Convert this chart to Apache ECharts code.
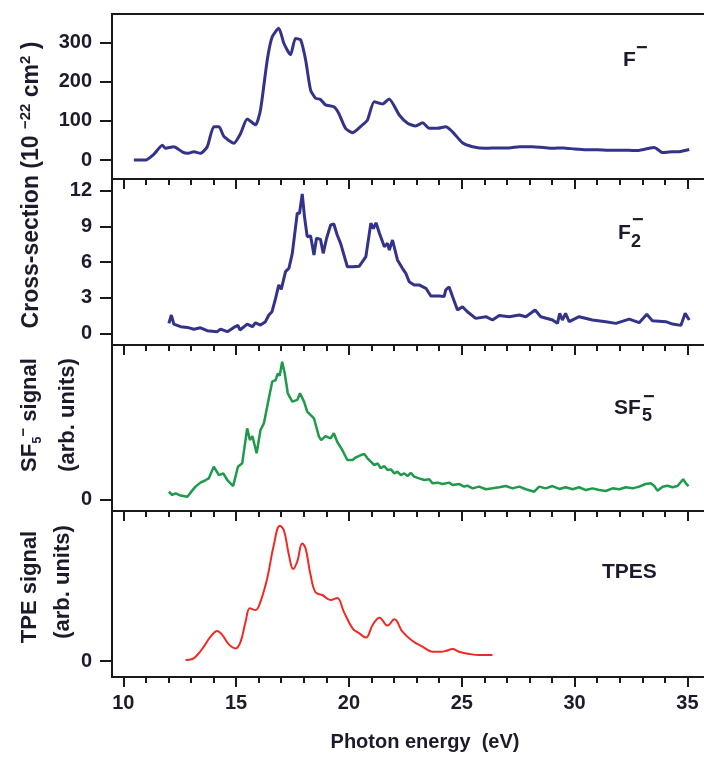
<!DOCTYPE html>
<html>
<head>
<meta charset="utf-8">
<script src="https://cdn.jsdelivr.net/npm/echarts@6/dist/echarts.min.js"></script>
<style>
  html, body { margin: 0; padding: 0; background: #ffffff; }
  #chart { width: 704px; height: 757px; }
</style>
</head>
<body>
<div id="chart"></div>
<script>
// Photon energy axis ticks (eV)
const majorTicks = [10, 15, 20, 25, 30, 35];
const minorTicks = [11, 12, 13, 14, 16, 17, 18, 19, 21, 22, 23, 24, 26, 27, 28, 29, 31, 32, 33, 34];

// Y tick labels of each panel
const fMinusTicks = [0, 100, 200, 300];
const f2MinusTicks = [0, 3, 6, 9, 12];
const sf5Ticks = [0];
const tpesTicks = [0];

// F- cross-section (10^-22 cm^2)
const fMinusE = [10.47, 10.99, 11.36, 11.73, 11.87, 12.24, 12.61, 12.84, 13.13, 13.42, 13.72, 14.01, 14.24, 14.46, 14.9, 15.2, 15.49, 15.86, 16.08, 16.38, 16.6, 16.89, 17.12, 17.41, 17.63, 17.86, 18.08, 18.3, 18.52, 18.74, 18.96, 19.33, 19.55, 19.85, 20.16, 20.6, 20.82, 21.12, 21.49, 21.78, 22.23, 22.6, 22.96, 23.26, 23.56, 23.92, 24.29, 24.59, 25.03, 25.48, 26.07, 26.6, 27.1, 27.55, 28.13, 28.6, 29.02, 29.5, 30.0, 30.5, 31.0, 31.5, 31.97, 32.4, 32.71, 33.15, 33.53, 33.9, 34.34, 34.7, 35.08];
const fMinusY = [0, 0, 15, 38, 30, 34, 21, 17, 21, 17, 34, 85, 85, 60, 43, 68, 105, 90, 128, 256, 315, 337, 298, 269, 311, 307, 256, 179, 158, 155, 141, 136, 119, 81, 70, 90, 102, 149, 143, 156, 115, 94, 87, 95, 81, 81, 85, 72, 44, 34, 30, 31, 31, 34, 34, 32, 30, 31, 28, 26, 26, 25, 25, 25, 24, 28, 32, 19, 21, 22, 27];

// F2- cross-section (10^-22 cm^2)
const f2MinusE = [12.02, 12.13, 12.24, 12.54, 12.84, 13.13, 13.42, 13.72, 14.16, 14.31, 14.61, 14.9, 15.08, 15.17, 15.49, 15.72, 15.86, 16.08, 16.3, 16.45, 16.59, 16.75, 16.89, 17.0, 17.19, 17.34, 17.49, 17.71, 17.81, 17.93, 18.03, 18.15, 18.3, 18.45, 18.56, 18.74, 18.86, 19.01, 19.19, 19.33, 19.48, 19.63, 19.93, 20.16, 20.46, 20.75, 20.97, 21.08, 21.2, 21.35, 21.57, 21.71, 21.79, 21.93, 22.15, 22.37, 22.52, 22.67, 22.89, 23.11, 23.41, 23.63, 24.0, 24.22, 24.29, 24.44, 24.59, 24.81, 25.03, 25.25, 25.62, 26.07, 26.36, 26.66, 27.1, 27.55, 27.84, 28.25, 28.5, 29.02, 29.24, 29.34, 29.46, 29.6, 29.76, 30.2, 30.79, 31.38, 31.83, 32.42, 32.86, 33.2, 33.45, 34.04, 34.34, 34.71, 34.9, 35.08];
const f2MinusY = [0.84, 1.54, 0.78, 0.56, 0.5, 0.34, 0.47, 0.22, 0.14, 0.36, 0.14, 0.5, 0.67, 0.28, 0.78, 0.56, 0.89, 0.7, 0.98, 1.54, 1.82, 2.94, 4.07, 3.7, 5.19, 5.47, 6.73, 10.1, 10.1, 11.73, 9.82, 8.13, 8.2, 6.59, 8.0, 7.9, 6.73, 8.0, 9.12, 9.2, 8.27, 7.57, 5.6, 5.6, 5.65, 6.45, 9.26, 8.8, 9.3, 8.42, 7.29, 7.57, 7.0, 7.85, 6.17, 5.47, 5.05, 4.34, 4.07, 4.07, 3.79, 3.14, 3.14, 3.1, 3.65, 3.9, 3.1, 1.96, 2.24, 1.82, 1.26, 1.4, 1.12, 1.5, 1.4, 1.54, 1.4, 1.96, 1.4, 1.12, 0.84, 1.68, 1.12, 1.68, 0.98, 1.4, 1.12, 0.98, 0.84, 1.2, 0.9, 1.6, 1.05, 0.98, 0.78, 0.67, 1.68, 1.12];

// SF5- signal (arb. units)
const sf5E = [12.02, 12.17, 12.32, 12.54, 12.84, 12.98, 13.2, 13.42, 13.65, 13.79, 14.01, 14.24, 14.43, 14.61, 14.87, 15.08, 15.27, 15.49, 15.61, 15.72, 15.91, 16.08, 16.23, 16.45, 16.6, 16.75, 16.85, 16.93, 17.04, 17.15, 17.29, 17.49, 17.71, 17.83, 18.01, 18.15, 18.45, 18.67, 18.77, 18.96, 19.19, 19.33, 19.48, 19.7, 19.93,
  20.16, 20.31, 20.53, 20.68, 20.82, 20.97, 21.12, 21.27, 21.41, 21.56, 21.71, 21.86, 22.01, 22.15, 22.3, 22.45, 22.6, 22.74, 22.89, 23.11, 23.34, 23.56, 23.7, 23.93, 24.15, 24.44, 24.59, 24.89, 25.11, 25.25, 25.48, 25.77, 26.07, 26.36, 26.66, 26.95, 27.25, 27.55, 27.84, 28.21, 28.43, 28.72, 29.02, 29.32, 29.61, 29.91, 30.2, 30.5, 30.79, 31.09, 31.38, 31.68, 31.98, 32.27, 32.57, 32.86, 33.15, 33.38, 33.53, 33.67, 33.9, 34.12, 34.34, 34.56, 34.81, 34.93, 35.05];
const sf5Y = [0.049, 0.028, 0.038, 0.024, 0.017, 0.043, 0.082, 0.108, 0.125, 0.136, 0.211, 0.157, 0.168, 0.125, 0.086, 0.211, 0.233, 0.46, 0.384, 0.41, 0.298, 0.449, 0.492, 0.655, 0.762, 0.773, 0.816, 0.8, 0.892, 0.82, 0.687, 0.633, 0.644, 0.687, 0.633, 0.568, 0.525, 0.406, 0.384, 0.41, 0.395, 0.428, 0.373, 0.32, 0.255,
  0.255, 0.272, 0.287, 0.294, 0.266, 0.244, 0.222, 0.233, 0.201, 0.216, 0.19, 0.194, 0.168, 0.179, 0.157, 0.168, 0.151, 0.172, 0.147, 0.136, 0.125, 0.13, 0.104, 0.108, 0.099, 0.108, 0.093, 0.099, 0.082, 0.088, 0.071, 0.082, 0.065, 0.071, 0.078, 0.086, 0.071, 0.082, 0.065, 0.049, 0.082, 0.071, 0.086, 0.067, 0.078, 0.065, 0.078, 0.06, 0.071, 0.06, 0.054, 0.071, 0.065, 0.078, 0.071, 0.082, 0.099, 0.104, 0.086, 0.056, 0.082, 0.088, 0.078, 0.086, 0.13, 0.104, 0.086];

// Threshold photoelectron spectrum (arb. units)
const tpesE = [12.76, 13.06, 13.28, 13.57, 13.87, 14.16, 14.39, 14.68, 14.98, 15.2, 15.42, 15.61, 15.86, 16.08, 16.38, 16.67, 16.94, 17.12, 17.34, 17.53, 17.71, 17.93, 18.08, 18.3, 18.52, 18.82, 19.19, 19.48, 19.77, 20.16, 20.46, 20.75, 21.05, 21.35, 21.71, 22.01, 22.37, 22.82, 23.26, 23.7, 24.07, 24.29, 24.59, 24.88, 25.33, 25.77, 26.36];
const tpesY = [0.007, 0.013, 0.04, 0.096, 0.162, 0.2, 0.173, 0.111, 0.084, 0.129, 0.262, 0.351, 0.34, 0.396, 0.551, 0.773, 0.902, 0.87, 0.707, 0.613, 0.664, 0.784, 0.75, 0.573, 0.458, 0.44, 0.407, 0.42, 0.329, 0.218, 0.184, 0.156, 0.24, 0.289, 0.236, 0.278, 0.196, 0.133, 0.096, 0.062, 0.062, 0.067, 0.08, 0.062, 0.047, 0.04, 0.04];

const zip = (xs, ys) => xs.map((x, i) => [x, ys[i]]);

const FONT = 'Liberation Sans, Arial, sans-serif';
const INK = '#1b1b2b';
const FRAME = '#1a1a1a';

// Panel layout: four stacked plots sharing the energy axis
const panels = [
  { top: 14,  height: 165, min: -48.6, max: 373.4, ticks: fMinusTicks },
  { top: 179, height: 166, min: -0.98, max: 12.98, ticks: f2MinusTicks },
  { top: 345, height: 166, min: -0.0758, max: 1, ticks: sf5Ticks },
  { top: 511, height: 166, min: -0.1067, max: 1, ticks: tpesTicks }
];

const grid = panels.map(p => ({
  left: 112, width: 598, top: p.top, height: p.height,
  outerBoundsMode: 'none', containLabel: false,
  show: true, borderColor: FRAME, borderWidth: 2, backgroundColor: 'transparent'
}));

const xAxis = [];
panels.forEach((p, i) => {
  xAxis.push({
    gridIndex: i, type: 'value', min: 9.5, max: 36, position: 'bottom',
    axisLine: { show: true, onZero: false, lineStyle: { color: FRAME, width: 2 } },
    axisTick: { show: true, inside: false, length: 10, customValues: majorTicks, lineStyle: { color: FRAME, width: 2 } },
    axisLabel: {
      show: i === 3, customValues: majorTicks, margin: 16,
      fontFamily: FONT, fontSize: 20, fontWeight: 'bold', color: INK
    },
    splitLine: { show: false }
  });
  xAxis.push({
    gridIndex: i, type: 'value', min: 9.5, max: 36, position: 'bottom',
    axisLine: { show: false, onZero: false },
    axisTick: { show: true, inside: false, length: 6, customValues: minorTicks, lineStyle: { color: FRAME, width: 2 } },
    axisLabel: { show: false },
    splitLine: { show: false }
  });
});

const yAxis = panels.map((p, i) => ({
  gridIndex: i, type: 'value', min: p.min, max: p.max,
  axisLine: { show: true, lineStyle: { color: FRAME, width: 2 } },
  axisTick: { show: true, length: 12, customValues: p.ticks, lineStyle: { color: FRAME, width: 2 } },
  axisLabel: {
    customValues: p.ticks, margin: 20,
    fontFamily: FONT, fontSize: 20, fontWeight: 'bold', color: INK
  },
  splitLine: { show: false }
}));

const lineSeries = (i, data, color, width, smooth) => ({
  type: 'line', xAxisIndex: 2 * i, yAxisIndex: i, data,
  showSymbol: false, smooth, lineStyle: { color, width }, silent: true
});

const series = [
  lineSeries(0, zip(fMinusE, fMinusY), '#33338a', 3, 0.2),
  lineSeries(1, zip(f2MinusE, f2MinusY), '#33338a', 3, false),
  lineSeries(2, zip(sf5E, sf5Y), '#1f9a4a', 2.5, false),
  lineSeries(3, zip(tpesE, tpesY), '#ee2a24', 2, 0.4)
];

const txt = (x, y, text, size, extra) => ({
  type: 'text', x, y,
  style: Object.assign({
    text, fontFamily: FONT, fontSize: size, fontWeight: 'bold', fill: INK,
    textAlign: 'left', textVerticalAlign: 'middle'
  }, extra || {})
});

const supRich = {
  sup: { fontFamily: FONT, fontSize: 15, fontWeight: 'bold', fill: INK, verticalAlign: 'top', lineHeight: 28 },
  sub: { fontFamily: FONT, fontSize: 13, fontWeight: 'bold', fill: INK, verticalAlign: 'bottom', lineHeight: 26 }
};

const rotated = (x, y, text, size) => ({
  type: 'text', x, y, rotation: Math.PI / 2,
  style: {
    text, fontFamily: FONT, fontSize: size || 22, fontWeight: 'bold', fill: INK,
    textAlign: 'center', textVerticalAlign: 'middle', lineHeight: 26, rich: supRich
  }
});

const graphic = [
  // axis titles
  rotated(32, 185, 'Cross-section (10 {sup|−22} cm{sup|2} )', 23),
  rotated(30, 415, 'SF{sub|5}{sup|−} signal'),
  rotated(68, 415, '(arb. units)'),
  rotated(30, 587, 'TPE signal'),
  rotated(63, 582, '(arb. units)'),
  txt(425, 742, 'Photon energy  (eV)', 20, { textAlign: 'center' }),
  // panel labels
  txt(623, 60, 'F', 21),
  txt(636, 48, '−', 20),
  txt(618, 233, 'F', 21),
  txt(631, 242, '2', 18),
  txt(632, 220, '−', 20),
  txt(614, 408, 'SF', 21),
  txt(642, 416, '5', 18),
  txt(643, 397, '−', 20),
  txt(602, 572, 'TPES', 21)
];

const chart = echarts.init(document.getElementById('chart'), null, { renderer: 'canvas' });
chart.setOption({
  animation: false,
  backgroundColor: '#ffffff',
  grid, xAxis, yAxis, series, graphic
});
</script>
</body>
</html>
